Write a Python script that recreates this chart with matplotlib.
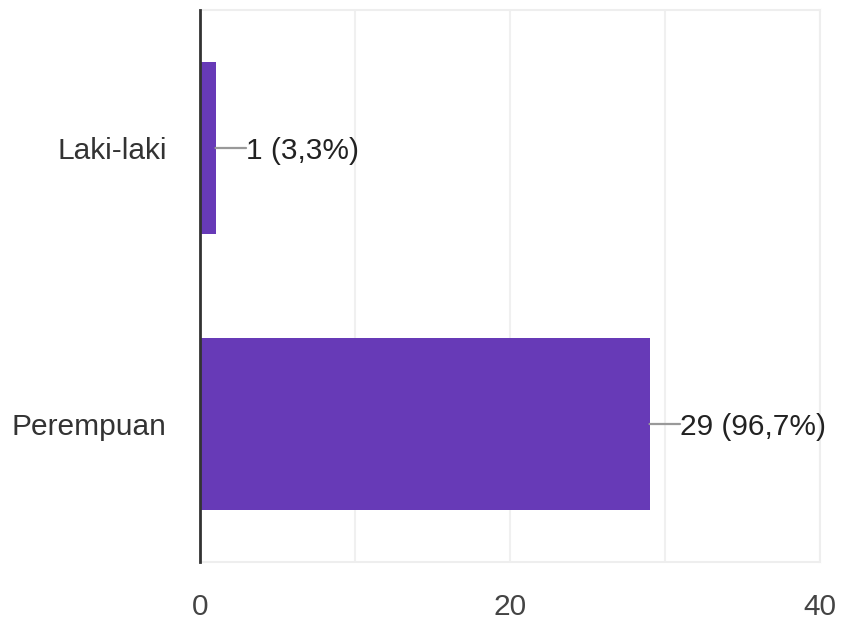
import matplotlib.pyplot as plt
import numpy as np

# response counts per gender
categories = ["Laki-laki", "Perempuan"]
counts = [1, 29]
percent_labels = ["3,3%", "96,7%"]
x_ticks = [0, 20, 40]

plt.rcParams['font.family'] = ['Liberation Sans', 'DejaVu Sans']

fig = plt.figure(figsize=(8.42, 6.21), dpi=100)
ax = fig.add_axes([200 / 842, 1 - 562 / 621, 620 / 842, 552 / 621])

y_pos = np.arange(len(categories))
ax.barh(y_pos, counts, height=0.625, color='#673ab7', zorder=3)

ax.set_xlim(0, 40)
ax.set_ylim(1.5, -0.5)

# light grid every 10, labels only every 20
ax.set_xticks(np.arange(0, 41, 10))
ax.set_xticklabels([str(t) if t in x_ticks else "" for t in np.arange(0, 41, 10)])
ax.grid(axis='x', color='#f0f0f0', linewidth=1.5, zorder=0)
ax.tick_params(axis='x', length=0, pad=22, labelsize=21.5, labelcolor='#444444')

ax.set_yticks(y_pos)
ax.set_yticklabels(categories)
ax.tick_params(axis='y', length=0, pad=24, labelsize=21.5, labelcolor='#333333')

for side in ['top', 'right', 'bottom']:
    ax.spines[side].set_color('#eeeeee')
    ax.spines[side].set_linewidth(1.5)
ax.spines['left'].set_color('#333333')
ax.spines['left'].set_linewidth(2)
ax.spines['left'].set_zorder(4)

# value labels with a short horizontal leader line
for y, c, p in zip(y_pos, counts, percent_labels):
    ax.annotate("", xy=(c, y), xytext=(22, 0), textcoords='offset points',
                arrowprops=dict(arrowstyle='-', color='#999999', lw=1.6,
                                shrinkA=0, shrinkB=0))
    ax.annotate(f"{c} ({p})", xy=(c, y), xytext=(22, -2),
                textcoords='offset points', ha='left', va='center',
                fontsize=21.5, color='#222222')

fig.savefig('out.png', dpi=100)
